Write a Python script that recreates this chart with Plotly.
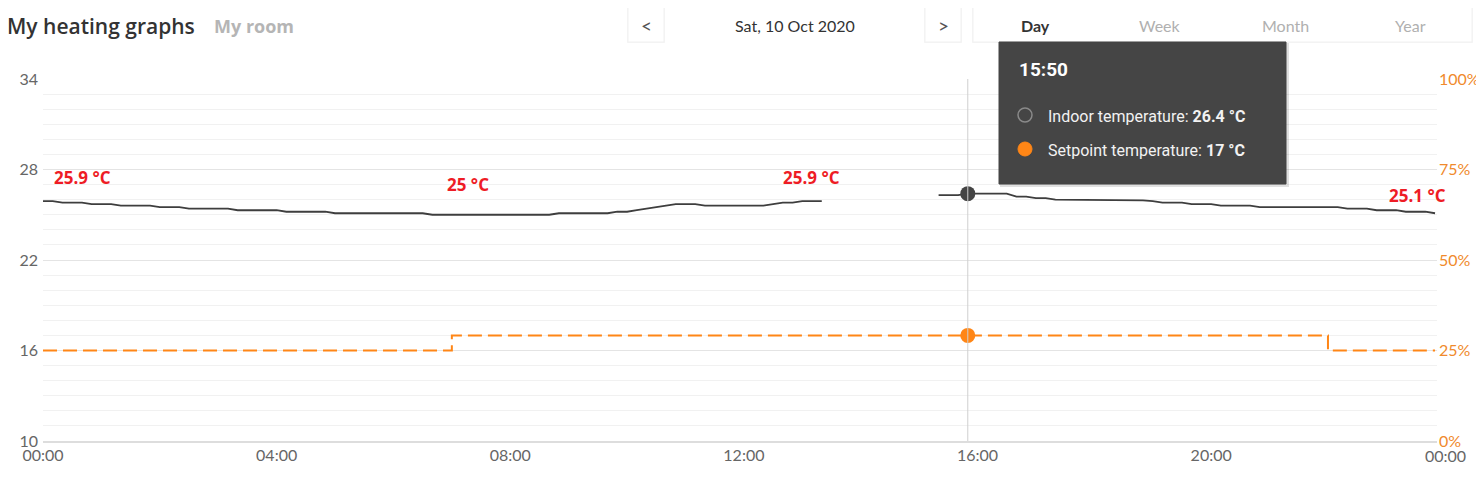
import plotly.graph_objects as go

# ---- data ----
day = "2020-10-10"

# indoor temperature, 10-minute readings, None = gap in the data
indoor_times = ["00:00", "00:10", "00:20", "00:40", "00:50", "01:10", "01:20", "01:50",
                "02:00", "02:20", "02:30", "03:10", "03:20", "04:00", "04:10", "04:50",
                "05:00", "06:30", "06:40", "08:40", "08:50", "09:40", "09:50", "10:00",
                "10:10", "10:20", "10:30", "10:40", "10:50", "11:10", "11:20", "12:20",
                "12:30", "12:40", "12:50", "13:00", "13:20",
                "14:20",
                "15:20", "15:40", "15:50", "16:30", "16:40", "16:50", "17:00", "17:10",
                "17:20", "18:40", "18:50", "19:00", "19:10", "19:30", "19:40", "20:00",
                "20:10", "20:40", "20:50", "22:10", "22:20", "22:40", "22:50", "23:10",
                "23:20", "23:40", "23:50"]
indoor_values = [25.9, 25.9, 25.8, 25.8, 25.7, 25.7, 25.6, 25.6,
                 25.5, 25.5, 25.4, 25.4, 25.3, 25.3, 25.2, 25.2,
                 25.1, 25.1, 25.0, 25.0, 25.1, 25.1, 25.2, 25.2,
                 25.3, 25.4, 25.5, 25.6, 25.7, 25.7, 25.6, 25.6,
                 25.7, 25.8, 25.8, 25.9, 25.9,
                 None,
                 26.3, 26.3, 26.4, 26.4, 26.2, 26.2, 26.1, 26.1,
                 26.0, 26.0, 25.95, 25.9, 25.8, 25.8, 25.7, 25.7,
                 25.6, 25.6, 25.5, 25.5, 25.4, 25.4, 25.3, 25.3,
                 25.2, 25.2, 25.1]

setpoint_times = ["00:00", "07:00", "22:00", "23:50"]
setpoint_values = [16, 17, 16, 16]

hover_time = "15:50"
hover_indoor = 26.4
hover_setpoint = 17

# red call-outs added on the screenshot
label_times = ["00:00", "07:15", "13:20", "23:50"]
label_values = [25.9, 25.0, 25.9, 25.1]
label_texts = ["25.9 °C", "25 °C", "25.9 °C", "25.1 °C"]

left_ticks = [10, 16, 22, 28, 34]
right_ticks = [0, 25, 50, 75, 100]
x_ticks = ["00:00", "04:00", "08:00", "12:00", "16:00", "20:00"]
tabs = ["Day", "Week", "Month", "Year"]

# ---- colours / fonts ----
ORANGE = "#ff8616"
DARK = "#3e3e3e"
TICK_FONT = dict(family="Lato", size=16, color="#666666")
UI_FONT = "Lato"

def ts(t):
    return f"{day} {t}"

# the page body has an 8px margin, so the figure is drawn 8px in from the window edge
PAGE = 8
W, H = 1484 - PAGE, 482 - PAGE
# plot area in window pixels, helpers for placing page furniture in paper coords
L, R, T, B = 43, 1437, 79, 441
def px(x):
    return (x - L) / (R - L)
def py(y):
    return (B - y) / (B - T)

fig = go.Figure()

fig.add_trace(go.Scatter(
    x=[ts(t) for t in indoor_times], y=indoor_values,
    mode="lines", line=dict(color=DARK, width=1.8),
    connectgaps=False, name="Indoor temperature", hoverinfo="skip"
))
fig.add_trace(go.Scatter(
    x=[ts(t) for t in setpoint_times], y=setpoint_values,
    mode="lines", line=dict(color=ORANGE, width=2, dash="14px,6px", shape="hv"),
    name="Setpoint temperature", hoverinfo="skip"
))
# highlighted points under the cursor
fig.add_trace(go.Scatter(
    x=[ts(hover_time), ts(hover_time)], y=[hover_indoor, hover_setpoint],
    mode="markers", marker=dict(size=15, color=["#444444", ORANGE]),
    hoverinfo="skip"
))
# empty trace so the right-hand % axis gets drawn
fig.add_trace(go.Scatter(
    x=[ts("00:00")], y=[None], yaxis="y2", mode="lines",
    showlegend=False, hoverinfo="skip"
))

# cursor line
shapes = [dict(type="line", xref="x", yref="paper", x0=ts(hover_time), x1=ts(hover_time),
               y0=0, y1=1, line=dict(color="#cfcfcf", width=1), layer="above")]

annotations = []
shifts = [("left", 9, 24), ("center", 2, 30), ("center", -10, 24), ("right", 13, 18)]
for t, v, txt, (anc, dx, dy) in zip(label_times, label_values, label_texts, shifts):
    annotations.append(dict(x=ts(t), y=v, text=f"<b>{txt}</b>", showarrow=False,
                            xanchor=anc, yanchor="middle", xshift=dx, yshift=dy,
                            font=dict(family="Open Sans", size=17, color="#ee1c25")))

# last "00:00" tick sits just past the end of the data
annotations.append(dict(x=1, y=0, xref="paper", yref="paper", text="00:00", showarrow=False,
                        xanchor="center", yanchor="top", xshift=8, yshift=-3, font=TICK_FONT))

# header
annotations += [
    dict(x=px(5), y=py(26), xref="paper", yref="paper", text="My heating graphs",
         showarrow=False, xanchor="left", yanchor="middle",
         font=dict(family="Open Sans", size=21, color="#333333", weight=600)),
    dict(x=px(212), y=py(26), xref="paper", yref="paper", text="<b>My room</b>",
         showarrow=False, xanchor="left", yanchor="middle",
         font=dict(family="Open Sans", size=18, color="#b5b5b5")),
    dict(x=px(795), y=py(25), xref="paper", yref="paper", text="Sat, 10 Oct 2020",
         showarrow=False, xanchor="center", yanchor="middle",
         font=dict(family=UI_FONT, size=16, color="#333333")),
    dict(x=px(646), y=py(25), xref="paper", yref="paper", text="&lt;", showarrow=False,
         xanchor="center", yanchor="middle",
         font=dict(family=UI_FONT, size=19, color="#555555")),
    dict(x=px(943), y=py(25), xref="paper", yref="paper", text="&gt;", showarrow=False,
         xanchor="center", yanchor="middle",
         font=dict(family=UI_FONT, size=19, color="#555555")),
]
for i, tab in enumerate(tabs):
    annotations.append(dict(
        x=px(1035 + 125 * i), y=py(25), xref="paper", yref="paper",
        text=f"<b>{tab}</b>" if i == 0 else tab, showarrow=False,
        xanchor="center", yanchor="middle",
        font=dict(family=UI_FONT, size=16, color="#333333" if i == 0 else "#b0b0b0")))

# buttons (soft shadow + white card)
for x0, x1 in [(628, 664), (925, 961), (973, 1472)]:
    shapes.append(dict(type="rect", xref="paper", yref="paper",
                       x0=px(x0 - 1), x1=px(x1 + 1), y0=py(43), y1=py(6),
                       fillcolor="rgba(0,0,0,0.04)", line=dict(width=0)))
    shapes.append(dict(type="rect", xref="paper", yref="paper",
                       x0=px(x0), x1=px(x1), y0=py(42), y1=py(7),
                       fillcolor="white", line=dict(color="#f1f1f1", width=1)))

# tooltip
shapes.append(dict(type="rect", xref="paper", yref="paper", x0=px(1000), x1=px(1289),
                   y0=py(187), y1=py(43), fillcolor="rgba(0,0,0,0.12)",
                   line=dict(width=0), layer="above"))
shapes.append(dict(type="rect", xref="paper", yref="paper", x0=px(999), x1=px(1286),
                   y0=py(184), y1=py(42), fillcolor="#454545",
                   line=dict(color="#454545", width=1), layer="above"))
shapes.append(dict(type="circle", xref="paper", yref="paper", x0=px(1018), x1=px(1032),
                   y0=py(122), y1=py(108), fillcolor="#454545",
                   line=dict(color="#8a8a8a", width=1.5), layer="above"))
shapes.append(dict(type="circle", xref="paper", yref="paper", x0=px(1018), x1=px(1032),
                   y0=py(156), y1=py(142), fillcolor=ORANGE,
                   line=dict(color=ORANGE, width=1), layer="above"))
annotations += [
    dict(x=px(1017), y=py(70), xref="paper", yref="paper", text=f"<b>{hover_time}</b>",
         showarrow=False, xanchor="left", yanchor="middle",
         font=dict(family="Roboto", size=19, color="white")),
    dict(x=px(1046), y=py(116), xref="paper", yref="paper",
         text=f"Indoor temperature: <b>{hover_indoor} °C</b>",
         showarrow=False, xanchor="left", yanchor="middle",
         font=dict(family="Roboto", size=16, color="#f2f2f2")),
    dict(x=px(1046), y=py(150), xref="paper", yref="paper",
         text=f"Setpoint temperature: <b>{hover_setpoint} °C</b>",
         showarrow=False, xanchor="left", yanchor="middle",
         font=dict(family="Roboto", size=16, color="#f2f2f2")),
]

fig.update_layout(
    template="none",
    width=W, height=H,
    margin=dict(l=L - PAGE, r=W - (R - PAGE), t=T - PAGE, b=H - (B - PAGE)),
    paper_bgcolor="white", plot_bgcolor="white",
    showlegend=False,
    xaxis=dict(
        type="date", range=[ts("00:00"), ts("23:52")],
        tickvals=[ts(t) for t in x_ticks], ticktext=x_ticks,
        showgrid=False, zeroline=False, showline=True,
        linecolor="#dddddd", linewidth=2, ticks="",
        tickfont=TICK_FONT, ticklabelstandoff=-1, fixedrange=True,
    ),
    yaxis=dict(
        range=[10, 34], tickvals=left_ticks, showgrid=True,
        gridcolor="#e4e4e4", gridwidth=1, zeroline=False, ticks="",
        tickfont=TICK_FONT, ticklabelstandoff=4,
        minor=dict(dtick=1, tick0=10, showgrid=True, gridcolor="#f1f1f1", gridwidth=1),
    ),
    yaxis2=dict(
        range=[0, 100], tickvals=right_ticks, ticktext=[f"{v}%" for v in right_ticks],
        overlaying="y", side="right", showgrid=False, zeroline=False, ticks="",
        tickfont=dict(family="Lato", size=16, color="#f08a2c"), ticklabelstandoff=1,
    ),
    shapes=shapes,
    annotations=annotations,
)

fig.write_html("out.html")
